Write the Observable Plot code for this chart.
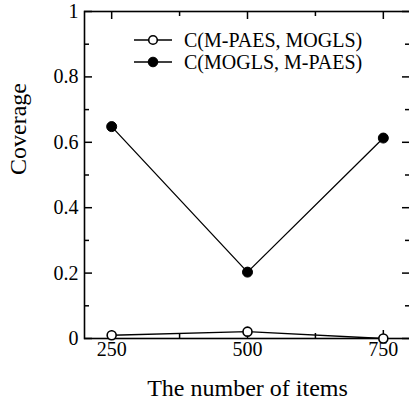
<!DOCTYPE html>
<html>
<head>
<meta charset="utf-8">
<script src="https://cdn.jsdelivr.net/npm/d3@7"></script>
<script src="https://cdn.jsdelivr.net/npm/@observablehq/plot@0.6"></script>
<style>
  html, body { margin: 0; padding: 0; background: #fff; overflow: hidden; }
  #wrap { position: relative; width: 409px; height: 400px; }
  #wrap svg text { font-family: "Liberation Serif", "Times New Roman", serif !important; font-variant: normal; }
  .legend { position: absolute; left: 130px; top: 29px; font-family: "Liberation Serif", "Times New Roman", serif; font-size: 20px; color: #000; }
  .legend .row { display: flex; align-items: center; height: 22px; }
  .legend svg { margin-right: 10px; }
</style>
</head>
<body>
<div id="wrap"></div>
<script>
const items = [250, 500, 750];
const coverageMP_MO = [0.01, 0.021, 0.0];   // C(M-PAES, MOGLS)
const coverageMO_MP = [0.648, 0.203, 0.613]; // C(MOGLS, M-PAES)
const seriesNames = ["C(M-PAES, MOGLS)", "C(MOGLS, M-PAES)"];
const xMajor = [250, 500, 750];
const xMinor = [375, 625];
const yMajor = [0, 0.2, 0.4, 0.6, 0.8, 1];
const yMinor = [0.1, 0.3, 0.5, 0.7, 0.9];

const s1 = items.map((x, i) => ({x, y: coverageMP_MO[i]}));
const s2 = items.map((x, i) => ({x, y: coverageMO_MP[i]}));

const F = "'Liberation Serif', 'Times New Roman', serif";
const W = 409, H = 400, ML = 84, MR = -1, MT = 11, MB = 62;
const PW = W - ML - MR, PH = H - MT - MB;
const MAJ = 8, MIN = 5;
const tw = {stroke: "#000", strokeWidth: 1.5};

const chart = Plot.plot({
  width: W,
  height: H,
  marginLeft: ML,
  marginRight: MR,
  marginTop: MT,
  marginBottom: MB,
  style: {fontFamily: F, fontSize: "20px", color: "#000", background: "#fff"},
  x: {domain: [200, 800], ticks: xMajor, tickSize: 0, tickPadding: 3, tickFormat: d => String(d), label: null},
  y: {domain: [0, 1], ticks: yMajor, tickSize: 0, tickPadding: 6, tickFormat: d => String(d), label: null},
  marks: [
    // inward ticks: bottom, top, left, right
    Plot.tickX(xMajor, {...tw, x: d => d, insetTop: PH - MAJ}),
    Plot.tickX(xMinor, {...tw, x: d => d, insetTop: PH - MIN}),
    Plot.tickX(xMajor, {...tw, x: d => d, insetBottom: PH - MAJ}),
    Plot.tickX(xMinor, {...tw, x: d => d, insetBottom: PH - MIN}),
    Plot.tickY(yMajor, {...tw, y: d => d, insetRight: PW - MAJ}),
    Plot.tickY(yMinor, {...tw, y: d => d, insetRight: PW - MIN}),
    Plot.tickY(yMajor, {...tw, y: d => d, insetLeft: PW - MAJ}),
    Plot.tickY(yMinor, {...tw, y: d => d, insetLeft: PW - MIN}),
    Plot.frame({stroke: "#000", strokeWidth: 1.6}),
    Plot.line(s1, {x: "x", y: "y", stroke: "#000", strokeWidth: 1.3}),
    Plot.line(s2, {x: "x", y: "y", stroke: "#000", strokeWidth: 1.3}),
    Plot.dot(s1, {x: "x", y: "y", r: 4.5, stroke: "#000", fill: "#fff", strokeWidth: 1.6}),
    Plot.dot(s2, {x: "x", y: "y", r: 5, stroke: "#000", fill: "#000", strokeWidth: 1}),
    Plot.text(["The number of items"], {frameAnchor: "bottom", dy: 57, lineAnchor: "bottom", fontSize: 24, fontFamily: F}),
    Plot.text(["Coverage"], {frameAnchor: "left", dx: -66, rotate: -90, fontSize: 24, fontFamily: F})
  ]
});
document.getElementById("wrap").appendChild(chart);

const legend = document.createElement("div");
legend.className = "legend";
seriesNames.forEach((name, i) => {
  const row = document.createElement("div");
  row.className = "row";
  const fill = i === 0 ? "#fff" : "#000";
  row.innerHTML = `<svg width="44" height="14"><line x1="4" y1="7" x2="42" y2="7" stroke="#000" stroke-width="1.3"/><circle cx="23" cy="7" r="${i === 0 ? 4.3 : 4.8}" fill="${fill}" stroke="#000" stroke-width="${i === 0 ? 1.6 : 1}"/></svg><span>${name}</span>`;
  legend.appendChild(row);
});
document.getElementById("wrap").appendChild(legend);
</script>
</body>
</html>
